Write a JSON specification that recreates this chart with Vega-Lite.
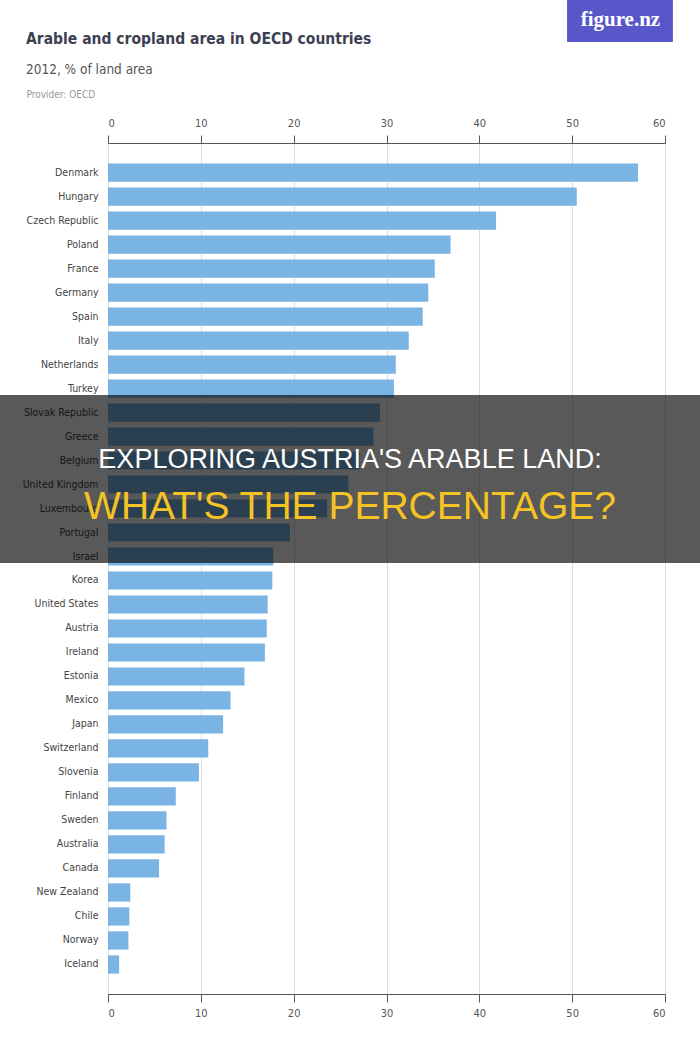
{
  "$schema": "https://vega.github.io/schema/vega-lite/v6.json",
  "width": 557,
  "height": 851,
  "autosize": "none",
  "padding": {"left": 108, "top": 143, "right": 35, "bottom": 56},
  "background": "white",
  "config": {"view": {"stroke": null}, "font": "DejaVu Sans Condensed, Roboto"},
  "title": {
    "text": "Arable and cropland area in OECD countries",
    "subtitle": "2012, % of land area",
    "anchor": "start",
    "frame": "group",
    "dx": -82,
    "dy": 88,
    "font": "DejaVu Sans Condensed, Roboto",
    "fontSize": 15.5,
    "fontWeight": "bold",
    "color": "#3b4150",
    "subtitleFont": "DejaVu Sans Condensed, Roboto",
    "subtitleFontSize": 13.5,
    "subtitleColor": "#555555",
    "subtitlePadding": 15,
    "offset": 12
  },
  "datasets": {
    "countries": [
      {"country": "Denmark", "value": 57.1},
      {"country": "Hungary", "value": 50.5},
      {"country": "Czech Republic", "value": 41.8},
      {"country": "Poland", "value": 36.9},
      {"country": "France", "value": 35.2},
      {"country": "Germany", "value": 34.5},
      {"country": "Spain", "value": 33.9},
      {"country": "Italy", "value": 32.4},
      {"country": "Netherlands", "value": 31.0},
      {"country": "Turkey", "value": 30.8},
      {"country": "Slovak Republic", "value": 29.3},
      {"country": "Greece", "value": 28.6},
      {"country": "Belgium", "value": 27.1},
      {"country": "United Kingdom", "value": 25.9},
      {"country": "Luxembourg", "value": 23.6},
      {"country": "Portugal", "value": 19.6},
      {"country": "Israel", "value": 17.8},
      {"country": "Korea", "value": 17.7},
      {"country": "United States", "value": 17.2},
      {"country": "Austria", "value": 17.1},
      {"country": "Ireland", "value": 16.9},
      {"country": "Estonia", "value": 14.7},
      {"country": "Mexico", "value": 13.2},
      {"country": "Japan", "value": 12.4},
      {"country": "Switzerland", "value": 10.8},
      {"country": "Slovenia", "value": 9.8},
      {"country": "Finland", "value": 7.3},
      {"country": "Sweden", "value": 6.3},
      {"country": "Australia", "value": 6.1},
      {"country": "Canada", "value": 5.5},
      {"country": "New Zealand", "value": 2.4},
      {"country": "Chile", "value": 2.3},
      {"country": "Norway", "value": 2.2},
      {"country": "Iceland", "value": 1.2}
    ]
  },
  "layer": [
    {
      "data": {"name": "countries"},
      "mark": {"type": "bar", "color": "#7ab4e4"},
      "encoding": {
        "x": {
          "field": "value",
          "type": "quantitative",
          "scale": {"domain": [0, 60], "nice": false},
          "axis": {
            "orient": "top",
            "values": [0, 10, 20, 30, 40, 50, 60],
            "grid": true,
            "gridColor": "#dddddd",
            "domainColor": "#555555",
            "tickColor": "#555555",
            "tickSize": 8,
            "labelPadding": 7,
            "labelFontSize": 11,
            "labelColor": "#555555",
            "labelFont": "DejaVu Sans Condensed, Roboto",
            "title": "Provider: OECD",
            "titleFont": "DejaVu Sans Condensed, Roboto",
            "titleFontSize": 10,
            "titleFontWeight": "normal",
            "titleColor": "#999999",
            "titleAlign": "left",
            "titleAnchor": "start",
            "titleX": -82,
            "titleY": -46,
            "titleBaseline": "alphabetic"
          }
        },
        "y": {
          "field": "country",
          "type": "nominal",
          "sort": null,
          "scale": {"paddingInner": 0.24, "paddingOuter": 0.85},
          "axis": {
            "title": null,
            "ticks": false,
            "domain": false,
            "labelPadding": 10,
            "labelFontSize": 10.5,
            "labelColor": "#444444",
            "labelFont": "DejaVu Sans Condensed, Roboto"
          }
        }
      }
    },
    {
      "data": {"name": "countries"},
      "mark": {"type": "bar", "opacity": 0},
      "encoding": {
        "x": {
          "field": "value",
          "type": "quantitative",
          "scale": {"domain": [0, 60], "nice": false},
          "axis": {
            "orient": "bottom",
            "values": [0, 10, 20, 30, 40, 50, 60],
            "grid": false,
            "domainColor": "#555555",
            "tickColor": "#555555",
            "tickSize": 8,
            "labelPadding": 5,
            "labelFontSize": 11,
            "labelColor": "#555555",
            "labelFont": "DejaVu Sans Condensed, Roboto",
            "title": null
          }
        },
        "y": {
          "field": "country",
          "type": "nominal",
          "sort": null,
          "scale": {"paddingInner": 0.24, "paddingOuter": 0.85},
          "axis": null
        }
      }
    },
    {
      "data": {"name": "countries"},
      "transform": [
        {"filter": {"field": "country", "oneOf": ["Slovak Republic", "Greece", "Belgium", "United Kingdom", "Luxembourg", "Portugal", "Israel"]}}
      ],
      "mark": {"type": "rect", "color": "#000000", "opacity": 0.65},
      "encoding": {
        "x": {"datum": -11.64, "type": "quantitative", "scale": {"domain": [0, 60], "nice": false}, "axis": null},
        "x2": {"datum": 63.8},
        "y": {
          "field": "country",
          "type": "nominal",
          "scale": {
            "domain": ["Denmark", "Hungary", "Czech Republic", "Poland", "France", "Germany", "Spain", "Italy", "Netherlands", "Turkey", "Slovak Republic", "Greece", "Belgium", "United Kingdom", "Luxembourg", "Portugal", "Israel", "Korea", "United States", "Austria", "Ireland", "Estonia", "Mexico", "Japan", "Switzerland", "Slovenia", "Finland", "Sweden", "Australia", "Canada", "New Zealand", "Chile", "Norway", "Iceland"],
            "paddingInner": 0,
            "paddingOuter": 0.73,
            "align": 0.34
          },
          "axis": null
        }
      }
    },
    {
      "data": {"values": [{"headline": "EXPLORING AUSTRIA'S ARABLE LAND:"}]},
      "mark": {"type": "text", "font": "Liberation Sans", "fontSize": 27, "color": "#ffffff", "align": "center", "baseline": "middle", "dy": 4},
      "encoding": {
        "text": {"field": "headline"},
        "x": {"datum": 26.07, "type": "quantitative", "scale": {"domain": [0, 60], "nice": false}, "axis": null},
        "y": {
          "datum": "Belgium",
          "type": "nominal",
          "scale": {
            "domain": ["Denmark", "Hungary", "Czech Republic", "Poland", "France", "Germany", "Spain", "Italy", "Netherlands", "Turkey", "Slovak Republic", "Greece", "Belgium", "United Kingdom", "Luxembourg", "Portugal", "Israel", "Korea", "United States", "Austria", "Ireland", "Estonia", "Mexico", "Japan", "Switzerland", "Slovenia", "Finland", "Sweden", "Australia", "Canada", "New Zealand", "Chile", "Norway", "Iceland"],
            "paddingInner": 0.24,
            "paddingOuter": 0.85
          },
          "axis": null
        }
      }
    },
    {
      "data": {"values": [{"headline": "WHAT'S THE PERCENTAGE?"}]},
      "mark": {"type": "text", "font": "Liberation Sans", "fontSize": 39, "color": "#f6c324", "align": "center", "baseline": "middle", "dy": 1},
      "encoding": {
        "text": {"field": "headline"},
        "x": {"datum": 26.07, "type": "quantitative", "scale": {"domain": [0, 60], "nice": false}, "axis": null},
        "y": {
          "datum": "Luxembourg",
          "type": "nominal",
          "scale": {
            "domain": ["Denmark", "Hungary", "Czech Republic", "Poland", "France", "Germany", "Spain", "Italy", "Netherlands", "Turkey", "Slovak Republic", "Greece", "Belgium", "United Kingdom", "Luxembourg", "Portugal", "Israel", "Korea", "United States", "Austria", "Ireland", "Estonia", "Mexico", "Japan", "Switzerland", "Slovenia", "Finland", "Sweden", "Australia", "Canada", "New Zealand", "Chile", "Norway", "Iceland"],
            "paddingInner": 0.24,
            "paddingOuter": 0.85
          },
          "axis": null
        }
      }
    },
    {
      "data": {"values": [{"brand": "figure.nz"}]},
      "mark": {"type": "rect", "color": "#5856c8"},
      "encoding": {
        "x": {"datum": 49.45, "type": "quantitative", "scale": {"domain": [0, 60], "nice": false}, "axis": null},
        "x2": {"datum": 60.85},
        "y": {"value": -143},
        "y2": {"value": -101}
      }
    },
    {
      "data": {"values": [{"brand": "figure.nz"}]},
      "mark": {"type": "text", "font": "Liberation Serif", "fontWeight": "bold", "fontSize": 21, "color": "#ffffff", "align": "center", "baseline": "middle"},
      "encoding": {
        "text": {"field": "brand"},
        "x": {"datum": 55.2, "type": "quantitative", "scale": {"domain": [0, 60], "nice": false}, "axis": null},
        "y": {"value": -123}
      }
    }
  ],
  "resolve": {
    "scale": {"x": "independent", "y": "independent"},
    "axis": {"x": "independent", "y": "independent"}
  }
}
